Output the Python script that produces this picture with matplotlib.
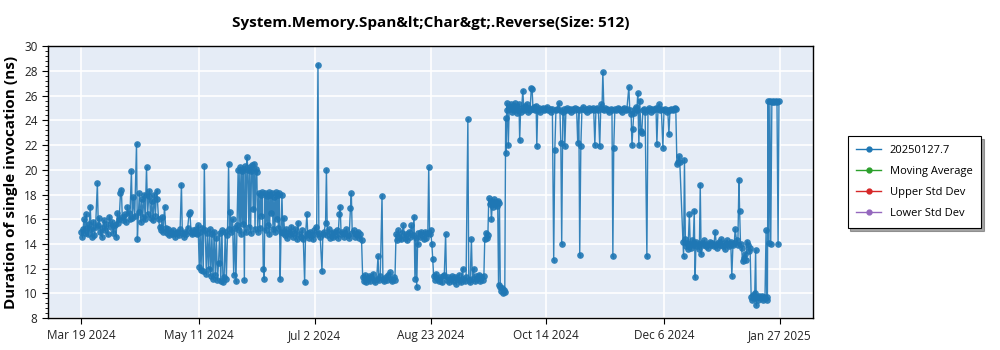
import matplotlib
matplotlib.use("Agg")
import matplotlib.pyplot as plt
from matplotlib.ticker import AutoMinorLocator
from matplotlib.lines import Line2D
import pandas as pd

plt.rcParams['font.family'] = ['Open Sans', 'DejaVu Sans']

title = "System.Memory.Span&lt;Char&gt;.Reverse(Size: 512)"
ylabel = "Duration of single invocation (ns)"
start = "2024-03-19"
series_names = ["20250127.7", "Moving Average", "Upper Std Dev", "Lower Std Dev"]
tick_dates = ["2024-03-19", "2024-05-11", "2024-07-02", "2024-08-23",
              "2024-10-14", "2024-12-06", "2025-01-27"]
tick_labels = ["Mar 19 2024", "May 11 2024", "Jul 2 2024", "Aug 23 2024",
               "Oct 14 2024", "Dec 6 2024", "Jan 27 2025"]

# (days after start, ns), in run order
pts = [
    # Mar - early May
    (0, 15.0), (0.4, 14.6), (0.8, 15.2), (1.2, 16.0), (1.6, 14.9), (2.2, 16.4), (2.6, 15.3),
    (3.0, 14.8), (3.5, 15.6), (4.0, 17.0), (4.4, 15.2), (4.8, 14.6), (5.4, 15.8), (5.9, 14.7),
    (6.4, 15.4), (7.2, 18.9), (7.6, 15.5), (8.0, 16.1), (8.6, 15.0), (9.1, 14.6), (9.5, 15.3),
    (10.0, 15.9), (10.6, 15.1), (11.2, 15.6), (11.8, 14.8), (12.6, 16.2), (13.2, 15.4),
    (13.8, 15.8), (14.4, 14.9), (15.0, 15.5), (15.6, 14.6), (16.2, 16.5), (16.6, 15.7),
    (17.0, 16.0), (17.6, 18.1), (18.0, 18.4), (18.4, 16.2), (18.9, 15.9), (19.4, 16.4),
    (20.0, 15.8), (20.7, 17.0), (21.2, 16.5), (21.8, 16.0), (22.5, 19.9), (22.9, 16.1),
    (23.4, 17.8), (24.0, 16.3), (24.8, 22.1), (25.2, 14.4), (25.7, 16.6), (26.1, 18.1),
    (26.6, 15.8), (27.1, 17.6), (27.6, 16.2), (28.2, 18.0), (28.7, 16.0), (29.3, 20.2),
    (29.8, 16.4), (30.3, 17.9), (30.6, 18.3), (31.1, 16.1), (31.7, 17.5), (32.2, 15.9),
    (32.8, 18.0), (33.3, 16.3), (33.8, 18.3), (34.2, 17.6), (34.7, 16.0), (35.2, 15.4),
    (35.8, 15.1), (36.3, 16.2), (36.8, 15.0), (37.4, 17.0), (37.9, 15.3), (38.5, 14.9),
    (39.0, 15.2), (39.6, 14.7), (40.2, 15.0), (40.8, 14.8), (41.4, 15.1), (42.0, 14.6),
    (42.6, 14.9), (43.2, 15.0), (43.8, 14.7), (44.4, 15.2), (45.0, 18.8), (45.4, 14.9),
    (46.0, 14.6), (46.6, 15.0), (47.2, 14.8), (47.8, 15.3), (48.4, 16.4), (48.8, 16.6),
    (49.3, 15.0), (49.8, 14.8), (50.4, 15.1), (51.0, 14.9),
    # May - June
    (51.5, 15.2), (52.0, 14.8), (52.5, 15.5), (53.0, 12.1), (53.4, 15.0), (53.8, 11.9),
    (54.3, 15.3), (54.8, 11.8), (55.3, 20.3), (55.7, 15.1), (56.2, 11.6), (56.7, 14.9),
    (57.2, 12.0), (57.7, 15.2), (58.2, 11.4), (58.7, 14.8), (59.2, 11.2), (59.7, 15.0),
    (60.2, 11.5), (60.7, 14.5), (61.2, 11.1), (61.7, 12.5), (62.2, 14.9), (62.7, 11.0),
    (63.2, 15.1), (63.7, 10.9), (64.2, 11.3), (64.7, 15.0), (65.2, 11.2), (65.7, 14.7),
    (66.2, 20.5), (66.6, 15.2), (67.0, 16.6), (67.5, 15.0), (68.0, 16.0), (68.5, 11.5),
    (69.0, 15.3), (69.5, 11.0), (70.0, 15.5), (70.5, 20.0), (70.9, 15.1), (71.3, 20.2),
    (71.7, 14.8), (72.1, 19.9), (72.5, 15.6), (72.9, 20.1), (73.3, 11.1), (73.7, 20.3),
    (74.1, 15.0), (74.5, 21.0), (74.9, 20.0), (75.3, 15.4), (75.7, 20.2), (76.1, 14.9),
    (76.5, 19.9), (76.9, 20.4), (77.3, 16.8), (77.7, 20.5), (78.1, 15.2), (78.5, 20.1),
    (78.9, 19.8), (79.3, 15.0), (79.8, 18.1), (80.2, 15.3), (80.6, 18.0), (81.0, 16.3),
    (81.4, 18.2), (81.8, 12.0), (82.2, 11.2), (82.6, 18.1), (83.0, 15.1), (83.4, 17.9),
    (83.8, 15.5), (84.2, 18.2), (84.6, 14.8), (85.0, 18.0), (85.4, 16.5), (85.8, 18.1),
    (86.2, 15.2), (86.6, 17.8), (87.0, 15.0), (87.4, 18.2), (87.8, 16.0), (88.2, 18.0),
    (88.6, 15.3), (89.0, 18.1), (89.4, 11.2), (89.8, 15.0), (90.2, 18.0), (90.6, 14.9),
    # late June - July
    (91.0, 16.1), (91.5, 14.7), (92.0, 15.2), (92.6, 14.5), (93.2, 15.0), (93.8, 14.8),
    (94.4, 15.4), (95.0, 14.6), (95.6, 14.9), (96.2, 15.2), (96.8, 14.4), (97.4, 15.7),
    (98.0, 14.8), (98.6, 14.6), (99.2, 15.1), (99.8, 14.4), (100.4, 10.9), (100.8, 14.7),
    (101.4, 16.4), (101.8, 14.9), (102.4, 14.5), (103.0, 15.0), (103.6, 14.7), (104.2, 14.4),
    (104.8, 15.1), (105.4, 15.4), (105.8, 14.8), (106.4, 28.5), (106.8, 14.9), (107.4, 14.6),
    (108.2, 11.8), (108.6, 14.8), (109.2, 15.0), (109.8, 15.7), (110.2, 20.0), (110.6, 14.7),
    (111.2, 15.2), (111.8, 14.5), (112.4, 14.9), (113.0, 14.6), (113.6, 15.0), (114.2, 14.7),
    (114.8, 15.1), (115.4, 14.5), (116.0, 16.4), (116.4, 17.0), (116.8, 14.8), (117.4, 15.0),
    (118.0, 14.6), (118.6, 14.9), (119.2, 15.2), (119.8, 14.7), (120.4, 14.5), (121.0, 16.9),
    (121.4, 18.1), (121.8, 14.9), (122.4, 15.1), (123.0, 14.6), (123.6, 14.8), (124.2, 15.0),
    (124.8, 14.5), (125.4, 14.8), (126.0, 14.3),
    # late July - early August
    (126.5, 11.3), (127.0, 11.0), (127.5, 11.5), (128.0, 10.9), (128.6, 11.2), (129.2, 11.4),
    (129.8, 11.0), (130.4, 11.3), (131.0, 11.6), (131.6, 11.1), (132.2, 10.9), (132.8, 11.2),
    (133.4, 13.0), (133.8, 11.1), (134.4, 11.4), (135.2, 17.9), (135.6, 11.2), (136.2, 11.0),
    (136.8, 11.3), (137.4, 11.1), (138.0, 11.5), (138.6, 11.7), (139.2, 11.2), (139.8, 11.0),
    (140.4, 11.3), (141.0, 11.1),
    # August
    (141.5, 14.8), (142.0, 14.3), (142.5, 15.1), (143.0, 14.6), (143.6, 14.4), (144.2, 14.9),
    (144.8, 15.5), (145.4, 14.5), (146.0, 14.8), (146.6, 14.3), (147.2, 15.0), (147.8, 14.6),
    (148.4, 15.5), (149.0, 14.7), (149.6, 16.2), (150.0, 11.2), (150.4, 14.5), (150.8, 10.5),
    (151.2, 14.0), (151.6, 14.9), (152.2, 14.6), (152.8, 15.0), (153.4, 14.7), (154.0, 14.4),
    (154.6, 15.0), (155.2, 14.5), (155.8, 14.9), (156.2, 20.2), (156.6, 14.8), (157.0, 15.1),
    (157.6, 14.0), (158.0, 12.8),
    # late August - September
    (158.4, 11.4), (159.0, 11.1), (159.6, 11.6), (160.2, 11.2), (160.8, 11.0), (161.4, 11.3),
    (162.0, 10.9), (162.6, 11.4), (163.2, 11.5), (163.8, 14.8), (164.2, 11.1), (164.8, 11.3),
    (165.4, 10.9), (166.0, 11.2), (166.6, 11.4), (167.2, 11.0), (167.8, 11.3), (168.4, 10.8),
    (169.0, 11.2), (169.6, 11.5), (170.2, 11.1), (170.8, 10.9), (171.4, 12.0), (171.8, 11.2),
    (172.4, 11.0), (173.0, 11.3), (173.8, 24.1), (174.2, 11.1), (174.8, 10.9), (175.4, 14.4),
    (175.8, 11.2), (176.4, 12.0), (176.8, 11.0), (177.4, 11.4), (178.0, 11.2), (178.6, 11.5),
    (179.2, 11.0), (179.8, 11.3), (180.4, 11.1), (181.0, 11.4),
    # mid/late September
    (181.4, 14.4), (181.8, 14.9), (182.2, 14.5), (182.8, 14.7), (183.2, 17.7), (183.6, 17.2),
    (184.0, 17.5), (184.4, 16.0), (184.8, 17.3), (185.2, 17.0), (185.6, 17.6), (186.0, 17.2),
    (186.4, 17.4), (186.8, 17.1), (187.2, 17.5), (187.6, 10.7), (188.0, 17.3), (188.4, 10.5),
    (188.8, 10.2), (189.2, 10.4), (189.6, 10.0), (190.0, 10.3), (190.4, 10.1),
    # October - early December plateau
    (190.8, 24.2), (191.0, 21.4), (191.3, 25.4), (191.6, 24.8), (192.0, 22.0), (192.4, 25.1),
    (192.8, 24.9), (193.2, 25.3), (193.6, 24.7), (194.0, 25.2), (194.4, 24.8), (194.8, 25.4),
    (195.2, 24.9), (195.6, 25.1), (196.0, 24.6), (196.4, 24.8), (196.8, 25.3), (197.1, 22.4),
    (197.5, 24.7), (198.0, 25.0), (198.5, 26.4), (199.0, 24.8), (199.4, 25.2), (199.8, 24.9),
    (200.3, 25.3), (200.8, 24.7), (201.3, 25.0), (201.8, 24.8), (202.3, 26.6), (202.7, 26.5),
    (203.1, 24.9), (203.6, 25.1), (204.1, 24.8), (204.5, 25.2), (204.8, 21.9), (205.2, 24.8),
    (205.8, 25.0), (206.4, 24.7), (207.0, 24.9), (207.6, 25.0), (208.2, 24.8), (208.8, 24.9),
    (209.4, 25.1), (210.0, 24.8), (210.6, 24.9), (211.2, 24.7), (211.8, 24.9), (212.4, 12.7),
    (212.9, 21.6), (213.4, 24.8), (214.0, 24.9), (214.6, 25.4), (215.2, 24.8), (215.6, 22.2),
    (216.0, 14.0), (216.5, 24.7), (217.0, 24.9), (217.4, 21.9), (217.9, 24.8), (218.5, 25.0),
    (219.1, 24.8), (219.7, 24.9), (220.3, 24.7), (220.9, 24.9), (221.5, 24.8), (222.1, 25.0),
    (222.7, 24.9), (223.2, 22.2), (223.7, 24.8), (224.1, 13.1), (224.6, 21.9), (225.1, 24.9),
    (225.7, 25.1), (226.3, 24.8), (226.9, 24.9), (227.5, 24.7), (228.1, 25.0), (228.7, 24.8),
    (229.3, 24.9), (229.9, 25.0), (230.4, 24.8), (230.9, 22.0), (231.4, 24.9), (231.9, 25.0),
    (232.5, 24.8), (233.1, 21.9), (233.6, 25.3), (234.1, 24.9), (234.5, 27.9), (235.0, 24.8),
    (235.6, 25.0), (236.2, 24.9), (236.8, 24.8), (237.4, 24.7), (238.0, 24.9), (238.6, 24.8),
    (239.0, 13.0), (239.4, 21.8), (239.9, 24.9), (240.5, 24.8), (241.1, 25.0), (241.7, 24.9),
    (242.3, 24.8), (242.9, 24.7), (243.5, 24.9), (244.1, 25.0), (244.7, 24.8), (245.3, 24.9),
    (246.2, 26.7), (246.6, 24.8), (247.2, 24.5), (247.6, 22.0), (248.0, 23.3), (248.4, 24.6),
    (248.9, 24.9), (249.4, 25.1), (249.8, 24.8), (250.2, 26.2), (250.7, 22.0), (251.1, 25.6),
    (251.6, 23.1), (252.0, 23.0), (252.5, 24.8), (253.0, 24.9), (253.5, 24.7), (254.3, 13.0),
    (254.8, 24.8), (255.4, 25.0), (256.0, 24.7), (256.6, 24.9), (257.2, 24.8), (257.8, 24.9),
    (258.4, 25.0), (258.8, 22.1), (259.3, 24.9), (259.7, 25.3), (260.2, 24.8), (260.8, 24.9),
    (261.5, 21.8), (262.0, 24.8), (262.6, 24.9), (263.2, 24.7), (263.7, 24.8), (264.2, 22.9),
    (264.7, 24.8), (265.3, 24.9), (265.9, 24.8), (266.5, 24.9), (267.0, 25.0), (267.3, 24.9),
    # December - January
    (267.8, 20.5), (268.3, 20.6), (268.7, 21.1), (269.1, 20.6), (270.5, 14.2), (270.8, 13.0),
    (271.2, 20.8), (271.6, 14.4), (272.0, 13.8), (272.4, 14.1), (272.8, 13.6), (273.4, 16.4),
    (273.8, 14.0), (274.2, 13.7), (274.7, 14.3), (275.1, 13.9), (275.6, 16.7), (276.0, 11.3),
    (276.4, 14.2), (276.9, 13.8), (277.4, 14.0), (277.9, 13.6), (278.3, 18.8), (278.7, 13.2),
    (279.2, 14.1), (279.7, 13.9), (280.2, 14.3), (280.8, 13.8), (281.4, 14.0), (282.0, 13.7),
    (282.6, 14.2), (283.2, 13.9), (283.8, 14.1), (284.4, 13.8), (285.0, 15.0), (285.5, 14.0),
    (286.0, 13.7), (286.6, 14.2), (287.2, 13.9), (287.8, 14.4), (288.4, 13.8), (289.0, 14.1),
    (289.6, 13.6), (290.2, 14.3), (290.8, 14.0), (291.4, 13.8), (292.0, 14.2), (292.5, 11.4),
    (293.0, 13.9), (293.6, 14.1), (294.0, 15.2), (294.6, 14.3), (295.2, 13.9), (295.7, 19.2),
    (296.0, 16.7), (296.4, 14.0), (296.9, 13.7), (297.3, 12.6), (297.8, 12.9), (298.3, 13.2),
    (298.8, 12.7), (299.3, 14.2), (299.8, 13.9), (300.3, 13.4), (300.7, 13.7),
    # late January
    (301.2, 9.7), (301.6, 9.5), (302.0, 9.9), (302.4, 9.6), (302.8, 10.0), (303.2, 13.5),
    (303.5, 9.1), (303.9, 9.7), (304.4, 9.5), (304.9, 9.8), (305.4, 9.6), (305.9, 9.8),
    (306.4, 9.5), (306.9, 9.7), (307.4, 9.6), (307.9, 15.1), (308.2, 9.5), (308.5, 9.7),
    (308.8, 25.6), (309.2, 14.1), (309.6, 25.6), (310.0, 14.0), (310.5, 25.5), (311.0, 25.6),
    (311.6, 25.5), (312.2, 25.6), (312.8, 25.5), (313.3, 14.0), (313.7, 25.6),
]

days = [p[0] for p in pts]
values = [p[1] for p in pts]
dates = pd.Timestamp(start) + pd.to_timedelta(days, unit="D")

fig = plt.figure(figsize=(10, 3.5), dpi=100)
ax = fig.add_axes([0.048, 0.091, 0.765, 0.777])
ax.set_facecolor("#E5ECF6")

blue = "#1f77b4"
ax.errorbar(dates, values, yerr=0.12, color=blue, ecolor=blue, elinewidth=0.8,
            capsize=2, capthick=0.8, lw=1, alpha=0.9,
            marker="o", ms=4.8, mew=0, zorder=3)

ax.set_ylim(8, 30)
ax.set_yticks(range(8, 31, 2))
ax.yaxis.set_minor_locator(AutoMinorLocator(5))
ax.set_xlim(pd.Timestamp("2024-03-04"), pd.Timestamp("2025-02-11"))
ax.set_xticks(pd.to_datetime(tick_dates))
ax.set_xticklabels(tick_labels)

ax.grid(True, which="major", color="white", lw=1.2, zorder=0)
ax.set_axisbelow(True)
for s in ax.spines.values():
    s.set_color("black")
    s.set_linewidth(1)
ax.tick_params(axis="both", which="major", labelsize=8.5, colors="black",
               labelcolor="#222222", length=4)
ax.tick_params(axis="y", which="minor", length=2, color="black")

ax.set_title(title, fontsize=11, fontweight="bold", pad=14)
ax.set_ylabel(ylabel, fontsize=11, fontweight="bold", labelpad=4)

colors = [blue, "#2ca02c", "#d62728", "#9467bd"]
handles = [Line2D([], [], color=c, lw=1, marker="o", ms=3.5) for c in colors]
leg = fig.legend(handles, series_names, loc="center left",
                 bbox_to_anchor=(0.842, 0.48), fontsize=8, frameon=True,
                 fancybox=False, shadow=True, edgecolor="black",
                 handlelength=2.2, borderpad=0.8, labelspacing=0.9)
leg.get_frame().set_linewidth(0.8)

fig.savefig("out.png", dpi=100)
